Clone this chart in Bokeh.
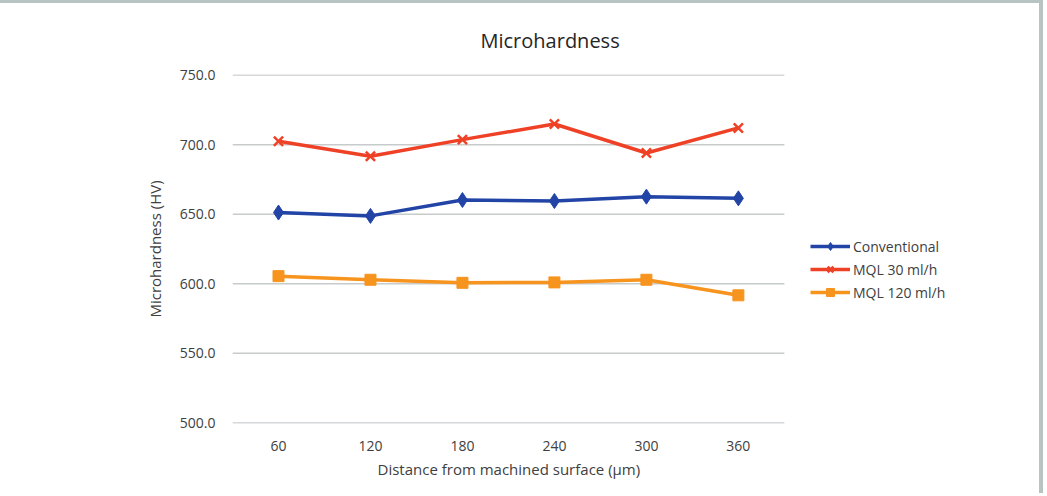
from bokeh.plotting import figure
from bokeh.models import (Range1d, FixedTicker, NumeralTickFormatter,
                          Legend, LegendItem, Title)
from bokeh.embed import file_html
from bokeh.resources import INLINE

distances = [60, 120, 180, 240, 300, 360]
distance_labels = ["60", "120", "180", "240", "300", "360"]
conventional = [651.2, 648.8, 660.2, 659.5, 662.6, 661.4]
mql_30 = [702.4, 691.7, 703.6, 714.8, 694.0, 712.0]
mql_120 = [605.5, 602.9, 600.7, 601.0, 602.9, 591.7]
y_ticks = [500, 550, 600, 650, 700, 750]

FONT = "Open Sans"
TXT = "#404040"

# category band 30..390 is the plotted area; the rest of the frame holds the legend
X_START, X_BAND_END, X_END = 30, 390, 531

p = figure(width=1043, height=493, x_range=Range1d(X_START, X_END),
           y_range=Range1d(499.6, 750.4), output_backend="svg", toolbar_location=None,
           min_border_left=232, min_border_right=43, min_border_top=71,
           min_border_bottom=73)
p.styles = {"border-top": "3px solid #b7c4c1", "border-right": "4px solid #b7c4c1"}
p.outline_line_color = None
p.background_fill_color = "white"
p.border_fill_color = "white"

p.title = Title(text="Microhardness", align="left", offset=248, standoff=41,
                text_font=FONT, text_font_size="20px", text_font_style="normal",
                text_color="#262626")

p.xgrid.grid_line_color = None
p.ygrid.grid_line_color = None
# horizontal grid lines over the category band only
p.segment(x0=[X_START] * len(y_ticks), x1=[X_BAND_END] * len(y_ticks),
          y0=y_ticks, y1=y_ticks, line_color="#c8cbcc", line_width=1.5)

p.yaxis.ticker = FixedTicker(ticks=y_ticks)
p.yaxis.formatter = NumeralTickFormatter(format="0.0")
p.xaxis.ticker = FixedTicker(ticks=distances)
p.xaxis.major_label_overrides = dict(zip(distances, distance_labels))

for ax in (p.xaxis[0], p.yaxis[0]):
    ax.axis_line_color = None
    ax.major_tick_line_color = None
    ax.minor_tick_line_color = None
    ax.major_tick_out = 0
    ax.major_tick_in = 0
    ax.major_label_text_font = FONT
    ax.major_label_text_font_size = "14px"
    ax.major_label_text_color = TXT
    ax.axis_label_text_font = FONT
    ax.axis_label_text_font_size = "15px"
    ax.axis_label_text_font_style = "normal"
    ax.axis_label_text_color = TXT

p.yaxis.axis_label = "Microhardness (HV)"
p.yaxis.major_label_standoff = 17
p.yaxis.axis_label_standoff = 12
p.xaxis.major_label_standoff = 17

p.add_layout(Title(text="Distance from machined surface (\u00b5m)", align="left",
                   offset=145, standoff=6, text_font=FONT, text_font_size="15px",
                   text_font_style="normal", text_color=TXT), "below")

BLUE = "#2144a6"
RED = "#ee4126"
ORANGE = "#f7941e"

l1 = p.line(distances, conventional, line_color=BLUE, line_width=3.5)
m1 = p.scatter(distances, conventional, marker="diamond", size=15,
               fill_color=BLUE, line_color=BLUE)
l2 = p.line(distances, mql_30, line_color=RED, line_width=3.5)
m2 = p.scatter(distances, mql_30, marker="x", size=13, line_color=RED, line_width=2.5)
l3 = p.line(distances, mql_120, line_color=ORANGE, line_width=3.5)
m3 = p.scatter(distances, mql_120, marker="square", size=11,
               fill_color=ORANGE, line_color=ORANGE)

legend = Legend(items=[
    LegendItem(label="Conventional", renderers=[l1, m1]),
    LegendItem(label="MQL 30 ml/h", renderers=[l2, m2]),
    LegendItem(label="MQL 120 ml/h", renderers=[l3, m3]),
], location=(578, 121), padding=0, margin=0, spacing=3,
    glyph_width=40, glyph_height=20, label_height=20, label_standoff=3,
    label_text_font=FONT, label_text_font_size="14px", label_text_color=TXT,
    border_line_color=None, background_fill_alpha=0)
p.add_layout(legend, "center")

open("out.html", "w").write(file_html(p, INLINE))
